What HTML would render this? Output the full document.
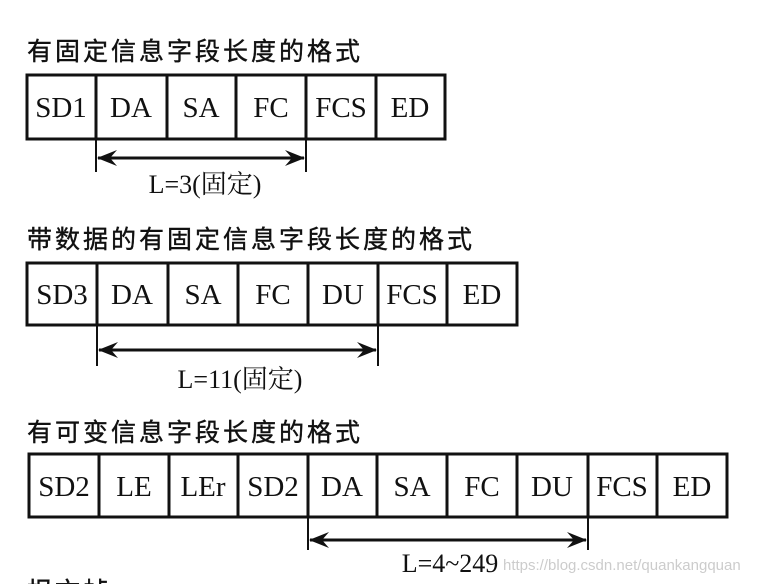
<!DOCTYPE html>
<html><head><meta charset="utf-8"><style>
html,body{margin:0;padding:0;background:#fff;width:762px;height:584px;overflow:hidden}
svg{display:block}
.t{font-family:"Liberation Sans","Noto Sans CJK SC",sans-serif;font-size:25px;letter-spacing:3px;fill:#111;stroke:#111;stroke-width:0.4}
.c{font-family:"Liberation Serif","Noto Serif CJK SC",serif;font-size:29px;fill:#111;text-anchor:middle}
.l{font-family:"Liberation Serif","Noto Serif CJK SC",serif;font-size:26px;fill:#111;text-anchor:middle}
rect,line{stroke:#111;stroke-width:3;fill:none}
.w{font-family:"Liberation Sans",sans-serif;font-size:15px;fill:#ccc}
</style></head><body>
<svg width="762" height="584" viewBox="0 0 762 584" xmlns="http://www.w3.org/2000/svg">
<defs><marker id="ar" markerWidth="20" markerHeight="16" refX="19" refY="8" orient="auto-start-reverse" markerUnits="userSpaceOnUse"><path d="M0,0 L20,8 L0,16 L7,8 Z" fill="#111"/></marker></defs>

<text class="t" x="27" y="60">有固定信息字段长度的格式</text>
<rect x="27" y="75" width="418" height="64"/>
<line x1="96" y1="75" x2="96" y2="139"/><line x1="167" y1="75" x2="167" y2="139"/><line x1="236" y1="75" x2="236" y2="139"/><line x1="306" y1="75" x2="306" y2="139"/><line x1="376" y1="75" x2="376" y2="139"/>
<text class="c" x="61" y="117">SD1</text><text class="c" x="131" y="117">DA</text><text class="c" x="201" y="117">SA</text><text class="c" x="271" y="117">FC</text><text class="c" x="341" y="117">FCS</text><text class="c" x="410" y="117">ED</text>
<line x1="96" y1="139" x2="96" y2="172" style="stroke-width:2"/><line x1="306" y1="139" x2="306" y2="172" style="stroke-width:2"/>
<line x1="98" y1="158" x2="304" y2="158" marker-start="url(#ar)" marker-end="url(#ar)"/>
<text class="l" x="205" y="193">L=3(固定)</text>

<text class="t" x="27" y="248">带数据的有固定信息字段长度的格式</text>
<rect x="27" y="263" width="490" height="62"/>
<line x1="97" y1="263" x2="97" y2="325"/><line x1="168" y1="263" x2="168" y2="325"/><line x1="238" y1="263" x2="238" y2="325"/><line x1="308" y1="263" x2="308" y2="325"/><line x1="378" y1="263" x2="378" y2="325"/><line x1="447" y1="263" x2="447" y2="325"/>
<text class="c" x="62" y="304">SD3</text><text class="c" x="132" y="304">DA</text><text class="c" x="203" y="304">SA</text><text class="c" x="273" y="304">FC</text><text class="c" x="343" y="304">DU</text><text class="c" x="412" y="304">FCS</text><text class="c" x="482" y="304">ED</text>
<line x1="97" y1="325" x2="97" y2="366" style="stroke-width:2"/><line x1="378" y1="325" x2="378" y2="366" style="stroke-width:2"/>
<line x1="99" y1="350" x2="376" y2="350" marker-start="url(#ar)" marker-end="url(#ar)"/>
<text class="l" x="240" y="388">L=11(固定)</text>

<text class="t" x="27" y="441">有可变信息字段长度的格式</text>
<rect x="29" y="454" width="698" height="63"/>
<line x1="99" y1="454" x2="99" y2="517"/><line x1="169" y1="454" x2="169" y2="517"/><line x1="238" y1="454" x2="238" y2="517"/><line x1="308" y1="454" x2="308" y2="517"/><line x1="377" y1="454" x2="377" y2="517"/><line x1="447" y1="454" x2="447" y2="517"/><line x1="517" y1="454" x2="517" y2="517"/><line x1="588" y1="454" x2="588" y2="517"/><line x1="657" y1="454" x2="657" y2="517"/>
<text class="c" x="64" y="496">SD2</text><text class="c" x="134" y="496">LE</text><text class="c" x="203" y="496">LEr</text><text class="c" x="273" y="496">SD2</text><text class="c" x="342" y="496">DA</text><text class="c" x="412" y="496">SA</text><text class="c" x="482" y="496">FC</text><text class="c" x="552" y="496">DU</text><text class="c" x="622" y="496">FCS</text><text class="c" x="692" y="496">ED</text>
<line x1="308" y1="517" x2="308" y2="550" style="stroke-width:2"/><line x1="588" y1="517" x2="588" y2="550" style="stroke-width:2"/>
<line x1="310" y1="540" x2="586" y2="540" marker-start="url(#ar)" marker-end="url(#ar)"/>
<text class="l" x="450" y="572">L=4~249</text>
<text class="w" x="503" y="570">https://blog.csdn.net/quankangquan</text>
<text class="t" x="27" y="600">报文帧</text>
</svg>
</body></html>
